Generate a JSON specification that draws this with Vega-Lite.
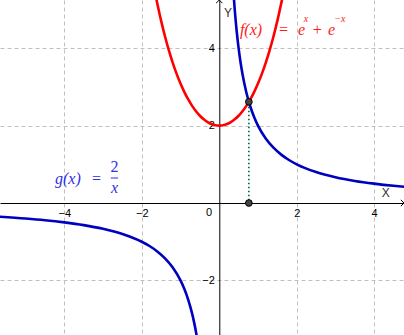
{
  "$schema": "https://vega.github.io/schema/vega-lite/v6.json",
  "width": 404,
  "height": 335,
  "autosize": "none",
  "padding": 0,
  "background": "white",
  "config": {"view": {"stroke": null}},
  "datasets": {
    "f": [
      {"x": -1.62, "y": 5.251}, {"x": -1.5, "y": 4.705}, {"x": -1.4, "y": 4.302}, {"x": -1.3, "y": 3.942},
      {"x": -1.2, "y": 3.621}, {"x": -1.1, "y": 3.337}, {"x": -1.0, "y": 3.086}, {"x": -0.9, "y": 2.866},
      {"x": -0.8, "y": 2.675}, {"x": -0.7, "y": 2.51}, {"x": -0.6, "y": 2.371}, {"x": -0.5, "y": 2.255},
      {"x": -0.4, "y": 2.162}, {"x": -0.3, "y": 2.091}, {"x": -0.2, "y": 2.04}, {"x": -0.1, "y": 2.01},
      {"x": 0, "y": 2}, {"x": 0.1, "y": 2.01}, {"x": 0.2, "y": 2.04}, {"x": 0.3, "y": 2.091},
      {"x": 0.4, "y": 2.162}, {"x": 0.5, "y": 2.255}, {"x": 0.6, "y": 2.371}, {"x": 0.7, "y": 2.51},
      {"x": 0.8, "y": 2.675}, {"x": 0.9, "y": 2.866}, {"x": 1.0, "y": 3.086}, {"x": 1.1, "y": 3.337},
      {"x": 1.2, "y": 3.621}, {"x": 1.3, "y": 3.942}, {"x": 1.4, "y": 4.302}, {"x": 1.5, "y": 4.705},
      {"x": 1.62, "y": 5.251}
    ],
    "g": [
      {"b": "L", "x": -5.7, "y": -0.351}, {"b": "L", "x": -5, "y": -0.4}, {"b": "L", "x": -4.5, "y": -0.444},
      {"b": "L", "x": -4, "y": -0.5}, {"b": "L", "x": -3.5, "y": -0.571}, {"b": "L", "x": -3, "y": -0.667},
      {"b": "L", "x": -2.5, "y": -0.8}, {"b": "L", "x": -2, "y": -1}, {"b": "L", "x": -1.8, "y": -1.111},
      {"b": "L", "x": -1.6, "y": -1.25}, {"b": "L", "x": -1.4, "y": -1.429}, {"b": "L", "x": -1.2, "y": -1.667},
      {"b": "L", "x": -1.0, "y": -2}, {"b": "L", "x": -0.9, "y": -2.222}, {"b": "L", "x": -0.8, "y": -2.5},
      {"b": "L", "x": -0.7, "y": -2.857}, {"b": "L", "x": -0.65, "y": -3.077}, {"b": "L", "x": -0.6, "y": -3.333},
      {"b": "L", "x": -0.57, "y": -3.509},
      {"b": "R", "x": 0.37, "y": 5.405}, {"b": "R", "x": 0.4, "y": 5}, {"b": "R", "x": 0.45, "y": 4.444},
      {"b": "R", "x": 0.5, "y": 4}, {"b": "R", "x": 0.55, "y": 3.636}, {"b": "R", "x": 0.6, "y": 3.333},
      {"b": "R", "x": 0.7, "y": 2.857}, {"b": "R", "x": 0.8, "y": 2.5}, {"b": "R", "x": 0.9, "y": 2.222},
      {"b": "R", "x": 1.0, "y": 2}, {"b": "R", "x": 1.2, "y": 1.667}, {"b": "R", "x": 1.4, "y": 1.429},
      {"b": "R", "x": 1.6, "y": 1.25}, {"b": "R", "x": 1.8, "y": 1.111}, {"b": "R", "x": 2.0, "y": 1},
      {"b": "R", "x": 2.5, "y": 0.8}, {"b": "R", "x": 3, "y": 0.667}, {"b": "R", "x": 3.5, "y": 0.571},
      {"b": "R", "x": 4, "y": 0.5}, {"b": "R", "x": 4.5, "y": 0.444}, {"b": "R", "x": 4.8, "y": 0.417}
    ],
    "pts": [{"x": 0.765, "y": 2.614}, {"x": 0.765, "y": 0}]
  },
  "layer": [
    {
      "data": {"name": "f"},
      "mark": {"type": "line", "color": "#ff0000", "strokeWidth": 2.6, "clip": true, "interpolate": "monotone"},
      "encoding": {
        "x": {"field": "x", "type": "quantitative",
          "scale": {"domain": [-5.66, 4.77], "nice": false, "zero": false},
          "axis": {"values": [-4, -2, 2, 4], "offset": -132, "title": null, "grid": true,
            "gridDash": [4, 3], "gridColor": "#c0c0c0", "gridOpacity": 1, "ticks": false,
            "domainColor": "black", "domainWidth": 1, "labelFont": "Liberation Sans", "labelFontSize": 11,
            "labelColor": "black", "labelPadding": 4, "labelOverlap": false, "labelFlush": false}},
        "y": {"field": "y", "type": "quantitative",
          "scale": {"domain": [-3.41, 5.245], "nice": false, "zero": false},
          "axis": {"values": [-2, 2, 4], "offset": -219.3, "title": null, "grid": true,
            "gridDash": [4, 3], "gridColor": "#c0c0c0", "gridOpacity": 1, "ticks": false,
            "domainColor": "black", "domainWidth": 1, "labelFont": "Liberation Sans", "labelFontSize": 11,
            "labelColor": "black", "labelPadding": 5, "labelOverlap": false, "labelFlush": false}}
      }
    },
    {
      "data": {"name": "g"},
      "mark": {"type": "line", "color": "#0000c0", "strokeWidth": 2.6, "clip": true, "interpolate": "monotone"},
      "encoding": {
        "x": {"field": "x", "type": "quantitative"},
        "y": {"field": "y", "type": "quantitative"},
        "detail": {"field": "b"}
      }
    },
    {
      "data": {"values": [{"x": 0.765, "y": 0.07, "y2": 2.55}]},
      "mark": {"type": "rule", "color": "#006633", "strokeWidth": 1.6, "strokeDash": [1.5, 2.5]},
      "encoding": {
        "x": {"field": "x", "type": "quantitative"},
        "y": {"field": "y", "type": "quantitative"},
        "y2": {"field": "y2"}
      }
    },
    {
      "data": {"name": "pts"},
      "mark": {"type": "point", "filled": true, "fill": "#444444", "stroke": "#000000", "strokeWidth": 1, "size": 45, "opacity": 1},
      "encoding": {
        "x": {"field": "x", "type": "quantitative"},
        "y": {"field": "y", "type": "quantitative"}
      }
    },
    {
      "data": {"values": [{"x": 4.77, "y": 0}]},
      "mark": {"type": "point", "shape": "M-1,-1L0,0L-1,1", "filled": false, "stroke": "black", "strokeWidth": 1, "size": 40, "opacity": 1},
      "encoding": {
        "x": {"field": "x", "type": "quantitative"},
        "y": {"field": "y", "type": "quantitative"}
      }
    },
    {
      "data": {"values": [{"x": 0, "y": 5.245}]},
      "mark": {"type": "point", "shape": "M-1,1L0,0L1,1", "filled": false, "stroke": "black", "strokeWidth": 1, "size": 40, "opacity": 1},
      "encoding": {
        "x": {"field": "x", "type": "quantitative"},
        "y": {"field": "y", "type": "quantitative"}
      }
    },
    {
      "data": {"values": [{"x": 4.3, "y": 0.26, "t": "X"}, {"x": 0.225, "y": 4.91, "t": "Y"}]},
      "mark": {"type": "text", "font": "Liberation Sans", "fontSize": 12, "color": "#333333", "align": "center", "baseline": "middle"},
      "encoding": {
        "x": {"field": "x", "type": "quantitative"},
        "y": {"field": "y", "type": "quantitative"},
        "text": {"field": "t"}
      }
    },
    {
      "data": {"values": [{"x": -0.26, "y": -0.25, "t": "0"}]},
      "mark": {"type": "text", "font": "Liberation Sans", "fontSize": 11, "color": "#000000", "align": "center", "baseline": "middle"},
      "encoding": {
        "x": {"field": "x", "type": "quantitative"},
        "y": {"field": "y", "type": "quantitative"},
        "text": {"field": "t"}
      }
    },
    {
      "data": {"values": [{"x": 0.534, "y": 4.47, "t": "f(x)"}, {"x": 2.031, "y": 4.47, "t": "e"}, {"x": 2.805, "y": 4.47, "t": "e"}]},
      "mark": {"type": "text", "font": "Liberation Serif", "fontStyle": "italic", "fontSize": 16, "color": "#ff1a1a", "align": "left", "baseline": "middle"},
      "encoding": {
        "x": {"field": "x", "type": "quantitative"},
        "y": {"field": "y", "type": "quantitative"},
        "text": {"field": "t"}
      }
    },
    {
      "data": {"values": [{"x": 1.657, "y": 4.47, "t": "="}, {"x": 2.534, "y": 4.47, "t": "+"}]},
      "mark": {"type": "text", "font": "Liberation Serif", "fontSize": 16, "color": "#ff1a1a", "align": "center", "baseline": "middle"},
      "encoding": {
        "x": {"field": "x", "type": "quantitative"},
        "y": {"field": "y", "type": "quantitative"},
        "text": {"field": "t"}
      }
    },
    {
      "data": {"values": [{"x": 2.18, "y": 4.76, "t": "x"}, {"x": 2.97, "y": 4.76, "t": "−x"}]},
      "mark": {"type": "text", "font": "Liberation Serif", "fontStyle": "italic", "fontSize": 10, "color": "#ff1a1a", "align": "left", "baseline": "middle"},
      "encoding": {
        "x": {"field": "x", "type": "quantitative"},
        "y": {"field": "y", "type": "quantitative"},
        "text": {"field": "t"}
      }
    },
    {
      "data": {"values": [{"x": -4.24, "y": 0.62, "t": "g(x)"}]},
      "mark": {"type": "text", "font": "Liberation Serif", "fontStyle": "italic", "fontSize": 16, "color": "#2f2fdf", "align": "left", "baseline": "middle"},
      "encoding": {
        "x": {"field": "x", "type": "quantitative"},
        "y": {"field": "y", "type": "quantitative"},
        "text": {"field": "t"}
      }
    },
    {
      "data": {"values": [{"x": -3.169, "y": 0.62, "t": "="}, {"x": -2.705, "y": 0.93, "t": "2"}]},
      "mark": {"type": "text", "font": "Liberation Serif", "fontSize": 16, "color": "#2f2fdf", "align": "center", "baseline": "middle"},
      "encoding": {
        "x": {"field": "x", "type": "quantitative"},
        "y": {"field": "y", "type": "quantitative"},
        "text": {"field": "t"}
      }
    },
    {
      "data": {"values": [{"x": -2.705, "y": 0.39, "t": "x"}]},
      "mark": {"type": "text", "font": "Liberation Serif", "fontStyle": "italic", "fontSize": 16, "color": "#2f2fdf", "align": "center", "baseline": "middle"},
      "encoding": {
        "x": {"field": "x", "type": "quantitative"},
        "y": {"field": "y", "type": "quantitative"},
        "text": {"field": "t"}
      }
    },
    {
      "data": {"values": [{"x": -2.8, "x2": -2.61, "y": 0.646}]},
      "mark": {"type": "rule", "color": "#2f2fdf", "strokeWidth": 1},
      "encoding": {
        "x": {"field": "x", "type": "quantitative"},
        "x2": {"field": "x2"},
        "y": {"field": "y", "type": "quantitative"}
      }
    }
  ]
}
